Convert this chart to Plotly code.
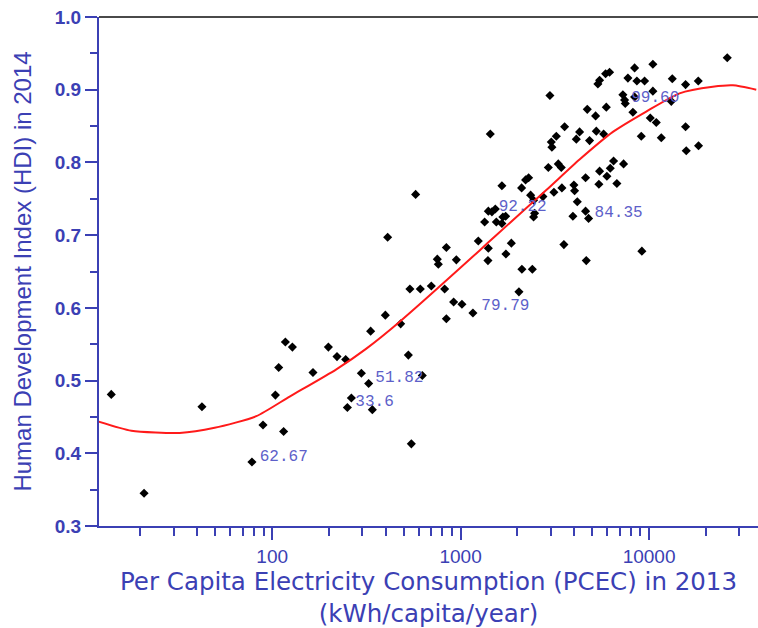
import plotly.graph_objects as go

# ---- data ----
pcec = [14.0, 20.9, 42.4, 78.1, 89.4, 104, 108.3, 115, 117.5, 128,
        164.6, 198.7, 220.8, 245.5, 333, 528, 297.4, 325, 626, 263.2,
        250.6, 340, 547.6, 1437, 577, 410, 840, 752, 761.6, 949,
        538, 611, 699, 822.6, 918, 1016, 1162, 840, 398.6, 480.6,
        1241, 1403, 1396, 1739, 1858, 2039, 2114, 2402, 3532, 1656,
        2107, 2212, 2295, 2920, 3298, 3421, 1341, 1403, 1466, 1528,
        1547, 1656, 1676, 1733, 2352, 2439, 2733, 2439, 2469, 3126,
        3446, 3991, 4025, 4160, 3943, 3028, 3050, 3219, 4110, 2977,
        5351, 5463, 5879, 6172, 7721, 8616, 9465, 13280, 15620, 18240,
        7261, 7413, 7477, 8378, 10476, 13120, 5929, 4699, 5202, 8206,
        10148, 10920, 15620, 9090, 11610, 15750, 18300, 3562, 4279, 4833,
        5247, 5737, 4603, 5463, 5973, 6225, 6480, 7322, 5416, 6747,
        4603, 4775, 4642, 9157, 25990, 10476, 8378]
hdi = [0.481, 0.345, 0.464, 0.388, 0.439, 0.480, 0.518, 0.430, 0.553, 0.546,
       0.511, 0.546, 0.533, 0.529, 0.568, 0.535, 0.510, 0.496, 0.507, 0.476,
       0.463, 0.460, 0.413, 0.839, 0.756, 0.697, 0.683, 0.667, 0.660, 0.666,
       0.626, 0.626, 0.630, 0.626, 0.608, 0.605, 0.593, 0.585, 0.590, 0.578,
       0.692, 0.682, 0.665, 0.674, 0.689, 0.622, 0.653, 0.653, 0.687, 0.768,
       0.765, 0.776, 0.779, 0.793, 0.798, 0.793, 0.718, 0.733, 0.732, 0.736,
       0.718, 0.716, 0.725, 0.726, 0.755, 0.748, 0.753, 0.725, 0.730, 0.759,
       0.765, 0.769, 0.761, 0.746, 0.726, 0.828, 0.821, 0.836, 0.832, 0.892,
       0.908, 0.913, 0.922, 0.924, 0.916, 0.912, 0.912, 0.915, 0.907, 0.912,
       0.893, 0.886, 0.881, 0.890, 0.898, 0.884, 0.876, 0.873, 0.864, 0.869,
       0.861, 0.855, 0.849, 0.836, 0.834, 0.816, 0.823, 0.849, 0.842, 0.830,
       0.843, 0.839, 0.779, 0.788, 0.781, 0.792, 0.802, 0.798, 0.770, 0.771,
       0.733, 0.723, 0.665, 0.678, 0.944, 0.935, 0.930]

fit_x = [12.0, 17.9, 32.3, 49.5, 82.4, 123.8, 219, 316, 475, 1261,
         1545, 2849, 4276, 6427, 9660, 14510, 21780, 27850, 37050]
fit_y = [0.4435, 0.431, 0.428, 0.435, 0.451, 0.478, 0.5155, 0.544, 0.581, 0.679,
         0.700, 0.762, 0.804, 0.842, 0.870, 0.895, 0.904, 0.906, 0.900]

label_text = ["62.67", "51.82", "33.6", "79.79", "92.22", "84.35", "99.60"]
label_x = [85.9, 352.8, 276.3, 1288, 1591, 5140, 8045]
label_y = [0.395, 0.503, 0.471, 0.6026, 0.739, 0.731, 0.888]

x_tick_vals = [100, 1000, 10000]
x_tick_text = ["100", "1000", "10000"]
x_minor_vals = [20, 30, 40, 50, 60, 70, 80, 90,
                200, 300, 400, 500, 600, 700, 800, 900,
                2000, 3000, 4000, 5000, 6000, 7000, 8000, 9000,
                20000, 30000]

BLUE = "#3b40b4"

fig = go.Figure()
fig.add_trace(go.Scatter(x=pcec, y=hdi, mode="markers",
                         marker=dict(symbol="diamond", size=7, color="black"),
                         showlegend=False))
fig.add_trace(go.Scatter(x=fit_x, y=fit_y, mode="lines",
                         line=dict(color="#ff1a1a", width=2, shape="spline", smoothing=0.6),
                         showlegend=False))
fig.add_trace(go.Scatter(x=label_x, y=label_y, mode="text", text=label_text,
                         textposition="middle right",
                         textfont=dict(family="Liberation Mono", size=16, color="#5d5fc9"),
                         showlegend=False))

fig.update_layout(
    width=758, height=628,
    margin=dict(l=99, r=0, t=17, b=102),
    paper_bgcolor="white", plot_bgcolor="white",
    xaxis=dict(
        type="log", range=[1.081, 4.578],
        tickmode="array", tickvals=x_tick_vals, ticktext=x_tick_text,
        ticks="outside", ticklen=12, tickwidth=2, tickcolor=BLUE,
        minor=dict(tickmode="array", tickvals=x_minor_vals, ticks="outside",
                   ticklen=8, tickwidth=2, tickcolor=BLUE),
        showline=True, linecolor=BLUE, linewidth=2,
        showgrid=False, zeroline=False,
        tickfont=dict(family="Liberation Sans", size=19, color=BLUE),
        title=dict(text="Per Capita Electricity Consumption (PCEC) in 2013<br>(kWh/capita/year)",
                   font=dict(family="DejaVu Sans", size=24.5, color=BLUE), standoff=7),
    ),
    yaxis=dict(
        range=[0.3, 1.0], dtick=0.1, tick0=0.3, tickformat=".1f",
        ticks="outside", ticklen=12, tickwidth=2, tickcolor=BLUE,
        minor=dict(dtick=0.05, ticks="outside", ticklen=7, tickwidth=2, tickcolor=BLUE),
        showline=True, linecolor=BLUE, linewidth=2,
        showgrid=False, zeroline=False,
        tickfont=dict(family="Liberation Sans", size=19, color=BLUE, weight="bold"),
        title=dict(text="Human Development Index (HDI) in 2014",
                   font=dict(family="Liberation Sans", size=24, color=BLUE), standoff=16),
    ),
    shapes=[dict(type="line", xref="paper", yref="paper", x0=0, x1=1, y0=1, y1=1,
                 line=dict(color="#4a4a4a", width=2))],
)

fig.write_html("out.html")
